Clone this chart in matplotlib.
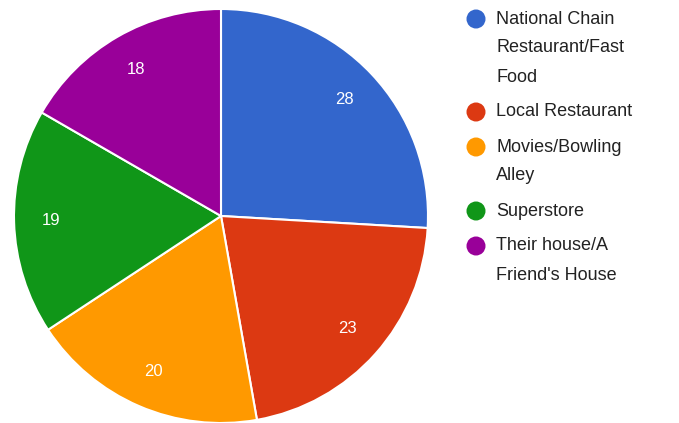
import matplotlib
matplotlib.use("Agg")
import matplotlib.pyplot as plt
from matplotlib.patches import Circle

categories = [
    "National Chain\nRestaurant/Fast\nFood",
    "Local Restaurant",
    "Movies/Bowling\nAlley",
    "Superstore",
    "Their house/A\nFriend's House",
]
values = [28, 23, 20, 19, 18]
colors = ["#3366cc", "#dc3912", "#ff9900", "#109618", "#990099"]

W, H = 679, 423
plt.rcParams["font.family"] = ["Liberation Sans", "DejaVu Sans"]
fig = plt.figure(figsize=(W / 100, H / 100), dpi=100)

# pie area: centre (221, 216) px, radius 207 px
cx, cy, r = 221, 216, 207
ax = fig.add_axes([(cx - r) / W, (H - cy - r) / H, 2 * r / W, 2 * r / H])
total = sum(values)
wedges, _, autotexts = ax.pie(
    values,
    colors=colors,
    startangle=90,
    counterclock=False,
    radius=1.0,
    autopct=lambda p: f"{round(p * total / 100)}",
    pctdistance=0.82,
    wedgeprops=dict(edgecolor="white", linewidth=1.5),
    textprops=dict(color="white", fontsize=12),
)
ax.set_xlim(-1, 1)
ax.set_ylim(-1, 1)
ax.set_aspect("equal")
ax.axis("off")

# legend drawn in pixel space
lax = fig.add_axes([0, 0, 1, 1])
lax.set_xlim(0, W)
lax.set_ylim(H, 0)
lax.axis("off")
line_h = 29
entry_gap = 35
y = 19
for label, col in zip(categories, colors):
    lax.add_patch(Circle((476, y), 9.5, color=col, lw=0))
    lines = label.split("\n")
    for i, ln in enumerate(lines):
        lax.text(496, y + i * line_h, ln, fontsize=13, color="#222222",
                 va="center", ha="left")
    y += (len(lines) - 1) * line_h + entry_gap

fig.savefig("out.png", dpi=100)
